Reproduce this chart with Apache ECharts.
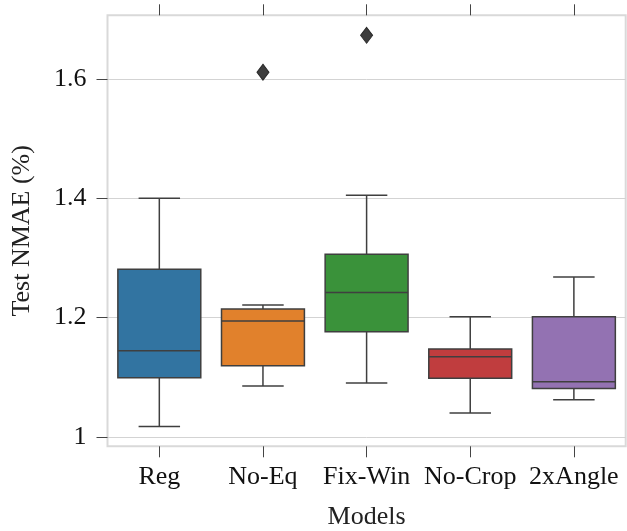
<!DOCTYPE html>
<html>
<head>
<meta charset="utf-8">
<script src="https://cdn.jsdelivr.net/npm/echarts@6/dist/echarts.min.js"></script>
<style>html,body{margin:0;padding:0;background:#fff;}#c{width:627px;height:531px;}</style>
</head>
<body>
<div id="c"></div>
<script>
const categories = ['Reg', 'No-Eq', 'Fix-Win', 'No-Crop', '2xAngle'];
const lowWhisker = [1.017, 1.085, 1.090, 1.040, 1.062];
const q1 = [1.099, 1.119, 1.176, 1.098, 1.081];
const median = [1.144, 1.194, 1.242, 1.134, 1.092];
const q3 = [1.281, 1.214, 1.306, 1.147, 1.201];
const highWhisker = [1.400, 1.221, 1.405, 1.201, 1.268];
const outliers = [[1, 1.611], [2, 1.673]];
const colors = ['#3274a1', '#e1812c', '#3a923a', '#c03d3e', '#9372b2'];
const yTicks = [1, 1.2, 1.4, 1.6];

const boxData = categories.map((c, i) => [i, lowWhisker[i], q1[i], median[i], q3[i], highWhisker[i]]);
const FONT = '"Liberation Serif", "DejaVu Serif", serif';
const EDGE = '#3f3f3f';

const chart = echarts.init(document.getElementById('c'), null, {renderer: 'canvas'});
chart.setOption({
  animation: false,
  backgroundColor: '#fff',
  grid: {left: 107.5, right: 1.3, top: 15.3, bottom: 84.7, show: true, borderColor: '#d9d9d9', borderWidth: 2,
    backgroundColor: 'transparent', containLabel: false, outerBoundsMode: 'none'},
  xAxis: [{
    type: 'category', data: categories, position: 'bottom',
    name: 'Models', nameLocation: 'middle', nameGap: 58,
    nameTextStyle: {fontFamily: FONT, fontSize: 26, color: '#222'},
    axisLine: {show: false},
    axisTick: {show: true, alignWithLabel: true, length: 11, lineStyle: {color: '#444', width: 1}},
    axisLabel: {fontFamily: FONT, fontSize: 26, color: '#111', margin: 18, interval: 0, hideOverlap: false},
    splitLine: {show: false}
  }, {
    type: 'category', data: categories, position: 'top',
    axisLine: {show: false},
    axisTick: {show: true, alignWithLabel: true, length: 11, lineStyle: {color: '#444', width: 1}},
    axisLabel: {show: false},
    splitLine: {show: false}
  }],
  yAxis: [{
    type: 'value', min: 0.984, max: 1.7065,
    name: 'Test NMAE (%)', nameLocation: 'middle', nameGap: 72,
    nameTextStyle: {fontFamily: FONT, fontSize: 26, color: '#222'},
    axisLine: {show: false},
    axisTick: {show: true, length: 11, customValues: yTicks, lineStyle: {color: '#444', width: 1}},
    axisLabel: {fontFamily: FONT, fontSize: 26, color: '#111', margin: 21, customValues: yTicks,
      formatter: v => String(Math.round(v * 10) / 10)},
    splitLine: {show: true, lineStyle: {color: '#d3d3d3', width: 1}}
  }],
  series: [{
    type: 'custom',
    data: boxData,
    encode: {x: 0, y: [1, 2, 3, 4, 5]},
    z: 3,
    renderItem: function (params, api) {
      const i = api.value(0);
      const pLo = api.coord([i, api.value(1)]);
      const pQ1 = api.coord([i, api.value(2)]);
      const pMed = api.coord([i, api.value(3)]);
      const pQ3 = api.coord([i, api.value(4)]);
      const pHi = api.coord([i, api.value(5)]);
      const bw = api.size([1, 0])[0] * 0.8;
      const cx = pQ1[0];
      const ls = {stroke: EDGE, lineWidth: 1.5};
      return {
        type: 'group',
        children: [
          {type: 'line', shape: {x1: cx, y1: pLo[1], x2: cx, y2: pQ1[1]}, style: ls},
          {type: 'line', shape: {x1: cx, y1: pQ3[1], x2: cx, y2: pHi[1]}, style: ls},
          {type: 'line', shape: {x1: cx - bw / 4, y1: pLo[1], x2: cx + bw / 4, y2: pLo[1]}, style: ls},
          {type: 'line', shape: {x1: cx - bw / 4, y1: pHi[1], x2: cx + bw / 4, y2: pHi[1]}, style: ls},
          {type: 'rect', shape: {x: cx - bw / 2, y: pQ3[1], width: bw, height: pQ1[1] - pQ3[1]},
            style: {fill: colors[i], stroke: EDGE, lineWidth: 1.5}},
          {type: 'line', shape: {x1: cx - bw / 2, y1: pMed[1], x2: cx + bw / 2, y2: pMed[1]}, style: ls}
        ]
      };
    }
  }, {
    type: 'scatter',
    data: outliers,
    symbol: 'diamond',
    symbolSize: [12, 16],
    z: 4,
    itemStyle: {color: '#3d3d3d', borderColor: '#2a2a2a', borderWidth: 1, opacity: 1}
  }]
});
</script>
</body>
</html>
